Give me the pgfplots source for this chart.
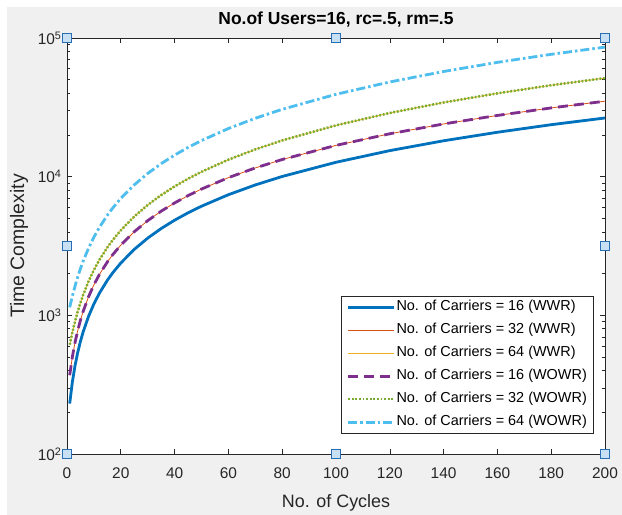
\documentclass[border=0pt]{standalone}
\usepackage{pgfplots}
\pgfplotsset{compat=1.18}
\usepackage{pgfplotstable}
\usepackage{fontspec}
\setmainfont{Liberation Sans}

\definecolor{mblue}{rgb}{0,0.447,0.741}
\definecolor{morange}{rgb}{0.85,0.325,0.098}
\definecolor{myellow}{rgb}{0.929,0.694,0.125}
\definecolor{mpurple}{rgb}{0.494,0.184,0.556}
\definecolor{mgreen}{rgb}{0.466,0.674,0.188}
\definecolor{mcyan}{rgb}{0.301,0.745,0.933}
\definecolor{figgray}{RGB}{240,240,240}
\definecolor{axgray}{RGB}{38,38,38}
\definecolor{hfill}{RGB}{200,224,244}
\definecolor{hdraw}{RGB}{40,110,180}

% time complexity vs. cycles
\pgfplotstableread{
x   w16   w32   w64   o16   o32   o64
1   231   370   615   370   615   1142
2   331   502   755   502   755   1376
3   435   639   907   639   907   1629
4   541   779   1066  779   1066  1896
5   649   922   1232  922   1232  2172
6   759   1066  1403  1066  1403  2457
8   982   1360  1757  1360  1757  3049
10  1209  1660  2125  1660  2125  3663
12  1439  1964  2503  1964  2503  4295
15  1790  2426  3090  2426  3090  5274
17  2026  2738  3490  2738  3490  5942
20  2384  3209  4105  3209  4105  6969
25  2990  4008  5159  4008  5159  8728
30  3604  4818  6248  4818  6248  10546
35  4225  5637  7360  5637  7360  12403
40  4853  6465  8501  6465  8501  14307
45  5486  7300  9660  7300  9660  16243
50  6123  8140  10839 8140  10839 18211
60  7412  9839  13254 9839  13254 22243
70  8716  11559 15726 11559 15726 26371
80  10032 13294 18256 13294 18256 30595
100 12698 16810 23443 16810 23443 39254
120 15410 20386 28790 20386 28790 48182
140 18149 23998 34276 23998 34276 57340
160 20906 27634 39899 27634 39899 66729
180 23700 31318 45626 31318 45626 76291
200 26503 35014 51411 35014 51411 85948
}\cyc

\begin{document}
\begin{tikzpicture}
\useasboundingbox (-67bp,-61bp) rectangle (555bp,454bp);
\fill[figgray] (-60bp,-61bp) rectangle (555bp,447bp);
\begin{axis}[
  at={(0,0)}, anchor=south west,
  scale only axis, width=538bp, height=416bp,
  ymode=log, xmin=0, xmax=200, ymin=100, ymax=100000,
  clip=false,
  axis background/.style={fill=white},
  xtick={0,20,...,200},
  ytick={100,1000,10000,100000},
  yticklabels={10\textsuperscript{2},10\textsuperscript{3},10\textsuperscript{4},10\textsuperscript{5}},
  /pgf/number format/assume math mode=true,
  tick align=inside, major tick length=5bp, minor tick length=3bp,
  every tick/.style={axgray, line width=0.6bp},
  axis line style={axgray, line width=0.8bp},
  ticklabel style={font=\fontsize{15.5}{15.5}\selectfont, text=axgray},
  xticklabel style={yshift=-10bp},
  yticklabel style={xshift=-2bp},
  title={\textbf{No.of Users=16, rc=.5, rm=.5}},
  title style={font=\fontsize{17.5}{18}\selectfont, at={(axis description cs:0.5,1.029)}, anchor=center},
  xlabel={No. of Cycles}, ylabel={Time Complexity},
  every axis x label/.style={at={(axis description cs:0.5,-0.118)}, anchor=center, font=\fontsize{18}{18}\selectfont, text=axgray},
  every axis y label/.style={at={(axis description cs:-0.089,0.5)}, rotate=90, anchor=center, font=\fontsize{19.5}{19.5}\selectfont, text=axgray},
  legend style={at={(axis description cs:0.978,0.05)}, anchor=south east,
    draw=axgray, line width=0.6bp, fill=white,
    font=\fontsize{14.5}{15}\selectfont, inner xsep=5bp, inner ysep=2.5bp,
    nodes={inner sep=1bp, text height=11bp, text depth=3.5bp}, row sep=6.5bp},
  legend cell align=left,
  legend image code/.code={\draw[#1] (0bp,0bp) -- (46bp,0bp);},
]
\addplot[mblue, line width=2.8bp] table[x=x, y=w16] {\cyc};
\addlegendentry{No. of Carriers = 16 (WWR)}
\addplot[morange, line width=0.8bp] table[x=x, y=w32] {\cyc};
\addlegendentry{No. of Carriers = 32 (WWR)}
\addplot[myellow, line width=0.8bp] table[x=x, y=w64] {\cyc};
\addlegendentry{No. of Carriers = 64 (WWR)}
\addplot[mpurple, line width=2.8bp, dash pattern=on 10bp off 6bp] table[x=x, y=o16] {\cyc};
\addlegendentry{No. of Carriers = 16 (WOWR)}
\addplot[mgreen, line width=2.5bp, dash pattern=on 1.8bp off 1.8bp] table[x=x, y=o32] {\cyc};
\addlegendentry{No. of Carriers = 32 (WOWR)}
\addplot[mcyan, line width=2.8bp, dash pattern=on 9bp off 3bp on 2.5bp off 3bp] table[x=x, y=o64] {\cyc};
\addlegendentry{No. of Carriers = 64 (WOWR)}
% selection handles of the figure
\addplot[only marks, mark=square*, mark size=4.8bp, mark options={fill=hfill, draw=hdraw, line width=0.8bp, solid}, forget plot]
  coordinates {(0,100) (100,100) (200,100) (0,100000) (100,100000) (200,100000) (0,3162) (200,3162)};
\end{axis}
\end{tikzpicture}
\end{document}
